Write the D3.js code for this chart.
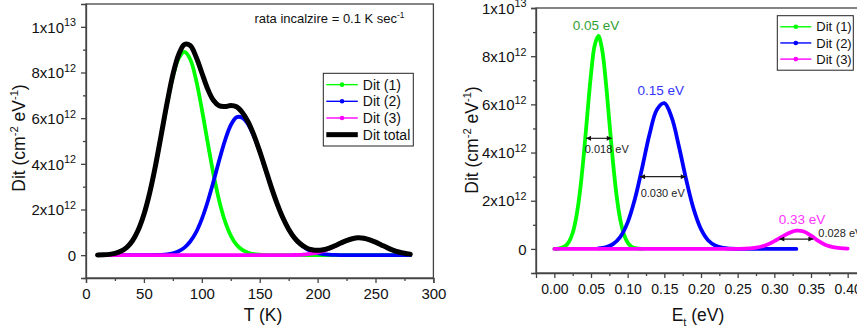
<!DOCTYPE html>
<html>
<head>
<meta charset="utf-8">
<script src="https://cdn.jsdelivr.net/npm/d3@7"></script>
<style>
  body { margin: 0; background: #fff; }
  svg text { font-family: "Liberation Sans", Arial, sans-serif; white-space: pre; }
</style>
</head>
<body>
<div id="container"></div>
<script>
// Values. Dit is in units of 1e12 cm^-2 eV^-1.

// left panel: Dit against temperature T (K)
const temps = [10, 15, 20, 25, 30, 35, 40, 45, 50, 55, 60, 65, 70, 75, 80, 85, 90, 95, 100, 105,
  110, 115, 120, 125, 130, 135, 140, 145, 150, 155, 160, 165, 170, 175, 180, 185, 190, 195, 200, 205,
  210, 215, 220, 225, 230, 235, 240, 245, 250, 255, 260, 265, 270, 275, 280];
const dit1T = [0.005, 0.014, 0.034, 0.078, 0.166, 0.33, 0.62, 1.09, 1.78, 2.73, 3.91, 5.26, 6.62, 7.81, 8.61, 8.90, 8.58, 7.69, 6.41, 4.96,
  3.57, 2.39, 1.49, 0.86, 0.46, 0.23, 0.107, 0.046, 0.019, 0.007, 0.003, 0.001, 0, 0, 0, 0, 0, 0, 0, 0,
  0, 0, 0, 0, 0, 0, 0, 0, 0, 0, 0, 0, 0, 0, 0];
const dit2T = [0, 0, 0, 0, 0, 0, 0, 0, 0.001, 0.002, 0.007, 0.017, 0.039, 0.085, 0.17, 0.33, 0.60, 1.00, 1.58, 2.33,
  3.21, 4.15, 5.02, 5.69, 6.04, 6.02, 5.73, 5.21, 4.53, 3.76, 2.98, 2.26, 1.64, 1.14, 0.75, 0.48, 0.29, 0.17, 0.092, 0.048,
  0.025, 0.012, 0.005, 0.002, 0.001, 0, 0, 0, 0, 0, 0, 0, 0, 0, 0];
const dit3T = [0, 0, 0, 0, 0, 0, 0, 0, 0, 0, 0, 0, 0, 0, 0, 0, 0, 0, 0, 0,
  0, 0, 0, 0, 0, 0, 0, 0, 0, 0, 0, 0.001, 0.002, 0.004, 0.008, 0.017, 0.035, 0.065, 0.115, 0.19,
  0.28, 0.40, 0.52, 0.64, 0.72, 0.76, 0.74, 0.67, 0.57, 0.45, 0.33, 0.22, 0.14, 0.082, 0.045];
const ditTotal = [0.005, 0.014, 0.034, 0.078, 0.17, 0.33, 0.62, 1.09, 1.78, 2.73, 3.92, 5.28, 6.66, 7.90, 8.78, 9.23, 9.18, 8.69, 7.99, 7.29,
  6.78, 6.54, 6.51, 6.55, 6.50, 6.25, 5.84, 5.26, 4.55, 3.77, 2.98, 2.26, 1.64, 1.14, 0.76, 0.50, 0.33, 0.235, 0.21, 0.24,
  0.31, 0.41, 0.53, 0.64, 0.72, 0.76, 0.74, 0.67, 0.57, 0.45, 0.33, 0.22, 0.14, 0.082, 0.045];

// right panel: Dit against trap energy Et (eV)
const energy1 = [0, 0.005, 0.01, 0.015, 0.02, 0.025, 0.03, 0.035, 0.04, 0.045, 0.05, 0.055, 0.06,
  0.065, 0.07, 0.075, 0.08, 0.085, 0.09, 0.095, 0.1, 0.105, 0.11, 0.115, 0.12];
const dit1E = [0.004, 0.014, 0.043, 0.12, 0.30, 0.66, 1.33, 2.39, 3.85, 5.58, 7.24, 8.44, 8.84,
  8.30, 7.00, 5.29, 3.59, 2.19, 1.20, 0.59, 0.26, 0.10, 0.036, 0.011, 0.003];
const energy2 = [0.06, 0.07, 0.08, 0.09, 0.10, 0.11, 0.12, 0.13, 0.14, 0.15, 0.16, 0.17, 0.18, 0.19,
  0.20, 0.21, 0.22, 0.23, 0.24, 0.25, 0.26, 0.27, 0.28, 0.29, 0.30, 0.31, 0.32, 0.33];
const dit2E = [0.02, 0.067, 0.20, 0.50, 1.10, 2.09, 3.40, 4.78, 5.79, 6.05, 5.46, 4.24, 2.85, 1.65,
  0.82, 0.35, 0.13, 0.042, 0.012, 0.003, 0.001, 0, 0, 0, 0, 0, 0, 0];
const energy3 = [0, 0.01, 0.02, 0.03, 0.04, 0.05, 0.06, 0.07, 0.08, 0.09, 0.10, 0.11, 0.12, 0.13,
  0.14, 0.15, 0.16, 0.17, 0.18, 0.19, 0.20, 0.21, 0.22, 0.23, 0.24, 0.25, 0.26, 0.27, 0.28,
  0.29, 0.30, 0.31, 0.32, 0.33, 0.34, 0.35, 0.36, 0.37, 0.38, 0.39, 0.40];
const dit3E = [0, 0, 0, 0, 0, 0, 0, 0, 0, 0, 0, 0, 0, 0,
  0, 0, 0, 0, 0, 0, 0, 0, 0, 0, 0, 0.003, 0.011, 0.032, 0.08,
  0.17, 0.32, 0.50, 0.66, 0.755, 0.72, 0.55, 0.33, 0.16, 0.07, 0.03, 0.015];

// ticks
const tTicks = [0, 50, 100, 150, 200, 250, 300];
const tMinor = [25, 75, 125, 175, 225, 275];
const eTicks = [0, 0.05, 0.10, 0.15, 0.20, 0.25, 0.30, 0.35, 0.40, 0.45];
const eMinor = [0.025, 0.075, 0.125, 0.175, 0.225, 0.275, 0.325, 0.375, 0.425];
const ditTicks = [0, 2, 4, 6, 8, 10];
const ditTickLabels = [["0", ""], ["2x10", "12"], ["4x10", "12"], ["6x10", "12"], ["8x10", "12"], ["1x10", "13"]];
const ditMinor = [-1, 1, 3, 5, 7, 9];

// legends and annotations
const legendNames = ["Dit (1)", "Dit (2)", "Dit (3)", "Dit total"];
const seriesColors = ["#00ff00", "#0000ff", "#ff00ff", "#000000"];
const peakLabels = ["0.05 eV", "0.15 eV", "0.33 eV"];
const peakLabelColors = ["#33a033", "#3333ff", "#ff33ff"];
const widthLabels = ["0.018 eV", "0.030 eV", "0.028 eV"];

const W = 857, H = 330;
const svg = d3.select("#container").append("svg")
  .attr("width", W)
  .attr("height", H);

const axisColor = "#444";

// arrow head used by the width markers
svg.append("defs").append("marker")
  .attr("id", "head")
  .attr("viewBox", "0 0 10 10")
  .attr("refX", 10).attr("refY", 5)
  .attr("markerWidth", 6).attr("markerHeight", 5)
  .attr("markerUnits", "userSpaceOnUse")
  .attr("orient", "auto-start-reverse")
  .append("path").attr("d", "M0,0L10,5L0,10Z").attr("fill", "#111");

// text with super (1) / sub (-1) script parts
function richText(t, parts, size, supRatio = 0.64) {
  let shift = 0;
  parts.forEach(([s, kind]) => {
    const want = kind === 1 ? -0.42 * size : kind === -1 ? 0.3 * size : 0;
    t.append("tspan")
      .attr("dy", want - shift)
      .attr("font-size", kind ? size * supRatio : size)
      .text(s);
    shift = want;
  });
  return t;
}

function axes(g, x, y, opt) {
  const xa = g.append("g").attr("transform", `translate(0,${y.range()[0]})`)
    .call(d3.axisBottom(x).tickValues(opt.xTicks).tickSize(5).tickPadding(opt.xPad).tickFormat(opt.xFmt));
  const ya = g.append("g").attr("transform", `translate(${x.range()[0]},0)`)
    .call(d3.axisLeft(y).tickValues(ditTicks).tickSize(5).tickPadding(opt.yPad));

  xa.selectAll(".tick text").attr("font-size", opt.xFont);
  ya.selectAll(".tick text").each(function (d, i) {
    const t = d3.select(this).text(null).attr("font-size", 15).attr("dy", null).attr("y", 5.2);
    const [m, e] = ditTickLabels[i];
    richText(t, e ? [[m, 0], [e, 1]] : [[m, 0]], 15, 0.72);
  });

  // minor ticks
  xa.append("g").call(d3.axisBottom(x).tickValues(opt.xMinor).tickSize(3).tickFormat(""))
    .select(".domain").remove();
  ya.append("g").call(d3.axisLeft(y).tickValues(ditMinor).tickSize(3).tickFormat(""))
    .select(".domain").remove();

  [xa, ya].forEach(a => {
    a.attr("font-family", null).attr("font-size", null);
    a.selectAll("g").attr("font-family", null).attr("font-size", null);
    a.selectAll("path, line").attr("stroke", axisColor).attr("stroke-width", 1.3);
    a.selectAll("text").attr("fill", "#111");
  });
}

const line = (x, y) => d3.line()
  .x(d => x(d[0]))
  .y(d => y(d[1]))
  .curve(d3.curveCatmullRom);

function legend(g, x0, y0, w, h, rows, fontSize, lineLen) {
  g.append("rect").attr("x", x0).attr("y", y0).attr("width", w).attr("height", h)
    .attr("fill", "#fff").attr("stroke", "#222").attr("stroke-width", 1);
  const step = (h - 6) / rows;
  legendNames.slice(0, rows).forEach((name, i) => {
    const cy = y0 + 3 + step * (i + 0.5);
    const total = i === 3;
    g.append("line").attr("x1", x0 + 3).attr("x2", x0 + 3 + lineLen).attr("y1", cy).attr("y2", cy)
      .attr("stroke", seriesColors[i]).attr("stroke-width", total ? 5 : 1.4);
    if (!total) {
      g.append("circle").attr("cx", x0 + 3 + lineLen / 2).attr("cy", cy).attr("r", 2.3)
        .attr("fill", seriesColors[i]);
    }
    g.append("text").attr("x", x0 + lineLen + 8).attr("y", cy).attr("dy", "0.36em")
      .attr("font-size", fontSize).attr("fill", "#111").text(name);
  });
}

// ---------- left panel ----------
{
  const x = d3.scaleLinear().domain([0, 300]).range([86, 433.4]);
  const y = d3.scaleLinear().domain([-1, 11]).range([278, 4]);
  const g = svg.append("g");

  g.append("rect").attr("x", 86).attr("y", y.range()[1])
    .attr("width", x.range()[1] - 86).attr("height", y.range()[0] - y.range()[1])
    .attr("fill", "none").attr("stroke", axisColor).attr("stroke-width", 1.3);

  axes(g, x, y, { xTicks: tTicks, xMinor: tMinor, xFmt: d3.format("d"), xFont: 15, xPad: 5, yPad: 5 });

  const series = [dit1T, dit2T, dit3T, ditTotal];
  series.forEach((vals, i) => {
    g.append("path")
      .datum(temps.map((t, j) => [t, vals[j]]))
      .attr("d", line(x, y))
      .attr("fill", "none")
      .attr("stroke", seriesColors[i])
      .attr("stroke-width", i === 3 ? 5 : 3.8)
      .attr("stroke-linecap", "round")
      .attr("stroke-linejoin", "round");
  });

  legend(g, 323.3, 73.3, 90, 72.7, 4, 14, 31.5);

  richText(g.append("text").attr("x", 404.5).attr("y", 23).attr("text-anchor", "end").attr("fill", "#111"),
    [["rata incalzire = 0.1 K sec", 0], ["-1", 1]], 13);

  richText(g.append("text").attr("x", 263).attr("y", 321).attr("text-anchor", "middle").attr("fill", "#111"),
    [["T (K)", 0]], 17.5);
  richText(g.append("text").attr("transform", "translate(25,138) rotate(-90)").attr("text-anchor", "middle").attr("fill", "#111"),
    [["Dit (cm", 0], ["-2", 1], [" eV", 0], ["-1", 1], [")", 0]], 17.5);
}

// ---------- right panel ----------
{
  const x = d3.scaleLinear().domain([-0.025, 0.425]).range([536, 866]);
  const y = d3.scaleLinear().domain([-1, 10]).range([273, 8]);
  const g = svg.append("g");

  g.append("rect").attr("x", 536).attr("y", y.range()[1])
    .attr("width", x.range()[1] - 536).attr("height", y.range()[0] - y.range()[1])
    .attr("fill", "none").attr("stroke", axisColor).attr("stroke-width", 1.3);

  axes(g, x, y, { xTicks: eTicks, xMinor: eMinor, xFmt: d3.format(".2f"), xFont: 14, xPad: 6, yPad: 4.5 });

  const series = [[energy1, dit1E], [energy2, dit2E], [energy3, dit3E]];
  series.forEach(([es, vals], i) => {
    g.append("path")
      .datum(es.map((e, j) => [e, vals[j]]))
      .attr("d", line(x, y))
      .attr("fill", "none")
      .attr("stroke", seriesColors[i])
      .attr("stroke-width", 3.8)
      .attr("stroke-linecap", "round")
      .attr("stroke-linejoin", "round");
  });

  // peak energy labels, anchored at the peaks (E, Dit)
  const peakAt = [[0.0569, 9.29], [0.1451, 6.57], [0.3378, 1.23]];
  peakLabels.forEach((s, i) => {
    g.append("text").attr("x", x(peakAt[i][0])).attr("y", y(peakAt[i][1])).attr("dy", "0.36em")
      .attr("text-anchor", "middle").attr("font-size", 13.5).attr("fill", peakLabelColors[i]).text(s);
  });

  // width markers: [E from, E to, Dit level]
  const widthAt = [[0.0432, 0.0783, 4.59], [0.1169, 0.1792, 3.0], [0.3068, 0.3532, 0.41]];
  const widthText = [[0.0715, 4.13, "middle"], [0.1478, 2.33, "middle"], [0.360, 0.67, "start"]];
  widthAt.forEach(([e0, e1, v], i) => {
    g.append("line").attr("x1", x(e0)).attr("x2", x(e1)).attr("y1", y(v)).attr("y2", y(v))
      .attr("stroke", "#222").attr("stroke-width", 1.2)
      .attr("marker-start", "url(#head)").attr("marker-end", "url(#head)");
    const [te, tv, anchor] = widthText[i];
    g.append("text").attr("x", x(te)).attr("y", y(tv)).attr("dy", "0.36em")
      .attr("text-anchor", anchor).attr("font-size", 11).attr("fill", "#222").text(widthLabels[i]);
  });

  legend(g, 777.3, 15.7, 76, 54.5, 3, 13, 31);

  richText(g.append("text").attr("x", 698).attr("y", 321).attr("text-anchor", "middle").attr("fill", "#111"),
    [["E", 0], ["t", -1], [" (eV)", 0]], 17.5);
  richText(g.append("text").attr("transform", "translate(478,140) rotate(-90)").attr("text-anchor", "middle").attr("fill", "#111"),
    [["Dit (cm", 0], ["-2", 1], [" eV", 0], ["-1", 1], [")", 0]], 17.5);
}
</script>
</body>
</html>
